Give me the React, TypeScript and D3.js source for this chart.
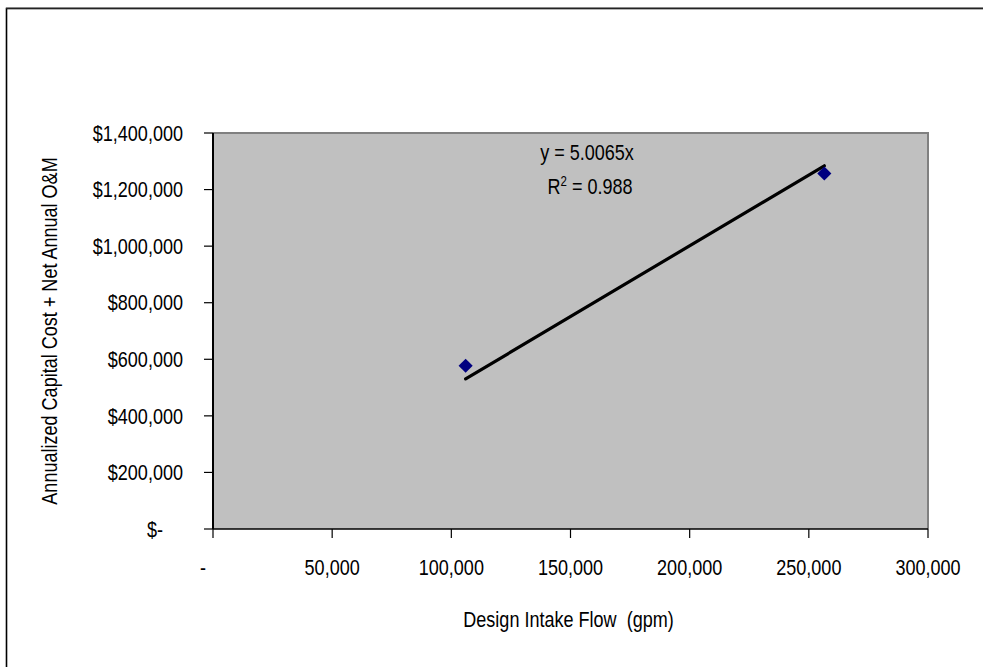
import React from "react";
import { scaleLinear, line } from "d3";

// data
const flowGpm = [106000, 256500];
const annualCost = [577000, 1257000];
const slope = 5.0065;
const equationText = "y = 5.0065x";
const r2Text = "0.988";
const xTicks = [0, 50000, 100000, 150000, 200000, 250000, 300000];
const yTicks = [0, 200000, 400000, 600000, 800000, 1000000, 1200000, 1400000];
const xTitle = "Design Intake Flow  (gpm)";
const yTitle = "Annualized Capital Cost + Net Annual O&M";

const W = 983;
const H = 667;
const plot = { left: 213, right: 928, top: 133, bottom: 529 };
const font = "'Liberation Sans', Arial, sans-serif";
const fs = 22;
const sx = 0.82; // text in the original is horizontally squeezed

const fmt = (v: number) => v.toLocaleString("en-US");

const App = () => {
  const x = scaleLinear().domain([0, 300000]).range([plot.left, plot.right]);
  const y = scaleLinear().domain([0, 1400000]).range([plot.bottom, plot.top]);

  const x0 = Math.min(...flowGpm);
  const x1 = Math.max(...flowGpm);
  const trend = line<number>()
    .x((d) => x(d))
    .y((d) => y(d * slope))([x0, x1]);

  return (
    <svg
      width={W}
      height={H}
      style={{ position: "absolute", left: 0, top: 0, background: "#fff" }}
      fontFamily={font}
      fontSize={fs}
    >
      {/* chart frame */}
      <rect x={6.5} y={8.5} width={1000} height={700} fill="#fff" stroke="#000" strokeWidth={1.6} />
      <line x1={6} x2={W} y1={7.8} y2={7.8} stroke="#777" strokeWidth={1} />

      {/* plot area */}
      <rect
        x={plot.left}
        y={plot.top}
        width={plot.right - plot.left}
        height={plot.bottom - plot.top}
        fill="#c0c0c0"
      />
      <path
        d={`M${plot.left},${plot.top}H${plot.right}V${plot.bottom}`}
        fill="none"
        stroke="#808080"
        strokeWidth={2}
      />
      <line x1={plot.left} x2={plot.left} y1={plot.top} y2={plot.bottom} stroke="#000" strokeWidth={2} />
      <line x1={plot.left} x2={plot.right} y1={plot.bottom} y2={plot.bottom} stroke="#000" strokeWidth={1.5} />

      {/* y axis */}
      {yTicks.map((t) => (
        <g key={"y" + t}>
          <line x1={plot.left - 9} x2={plot.left} y1={y(t)} y2={y(t)} stroke="#000" strokeWidth={1.2} />
          <text
            transform={`translate(${t === 0 ? 163 : 183},${y(t)}) scale(${sx},1)`}
            textAnchor="end"
            dominantBaseline="central"
            fill="#000"
          >
            {t === 0 ? "$-" : "$" + fmt(t)}
          </text>
        </g>
      ))}

      {/* x axis */}
      {xTicks.map((t) => (
        <g key={"x" + t}>
          <line x1={x(t)} x2={x(t)} y1={plot.bottom} y2={plot.bottom + 9} stroke="#000" strokeWidth={1.2} />
          <text
            transform={`translate(${t === 0 ? x(t) - 10 : x(t)},575) scale(${sx},1)`}
            textAnchor="middle"
            fill="#000"
          >
            {t === 0 ? "-" : fmt(t)}
          </text>
        </g>
      ))}

      {/* trendline */}
      <path d={trend ?? ""} fill="none" stroke="#000" strokeWidth={3.2} strokeLinecap="round" />

      {/* points */}
      {flowGpm.map((f, i) => (
        <rect
          key={i}
          x={-5}
          y={-5}
          width={10}
          height={10}
          fill="#000080"
          transform={`translate(${x(f)},${y(annualCost[i])}) rotate(45)`}
        />
      ))}

      {/* trendline label */}
      <text transform={`translate(587,160) scale(${sx},1)`} textAnchor="middle" fill="#000">
        {equationText}
      </text>
      <text transform={`translate(590,194) scale(${sx},1)`} textAnchor="middle" fill="#000">
        R<tspan dy={-8} fontSize={14}>2</tspan>
        <tspan dy={8}> = {r2Text}</tspan>
      </text>

      {/* axis titles */}
      <text
        transform={`translate(${(plot.left + plot.right) / 2 - 2},627) scale(${sx},1)`}
        textAnchor="middle"
        fill="#000"
        style={{ whiteSpace: "pre" }}
      >
        {xTitle}
      </text>
      <text
        transform={`translate(57,${(plot.top + plot.bottom) / 2}) rotate(-90) scale(${sx},1)`}
        textAnchor="middle"
        fill="#000"
      >
        {yTitle}
      </text>
    </svg>
  );
};

export default App;
